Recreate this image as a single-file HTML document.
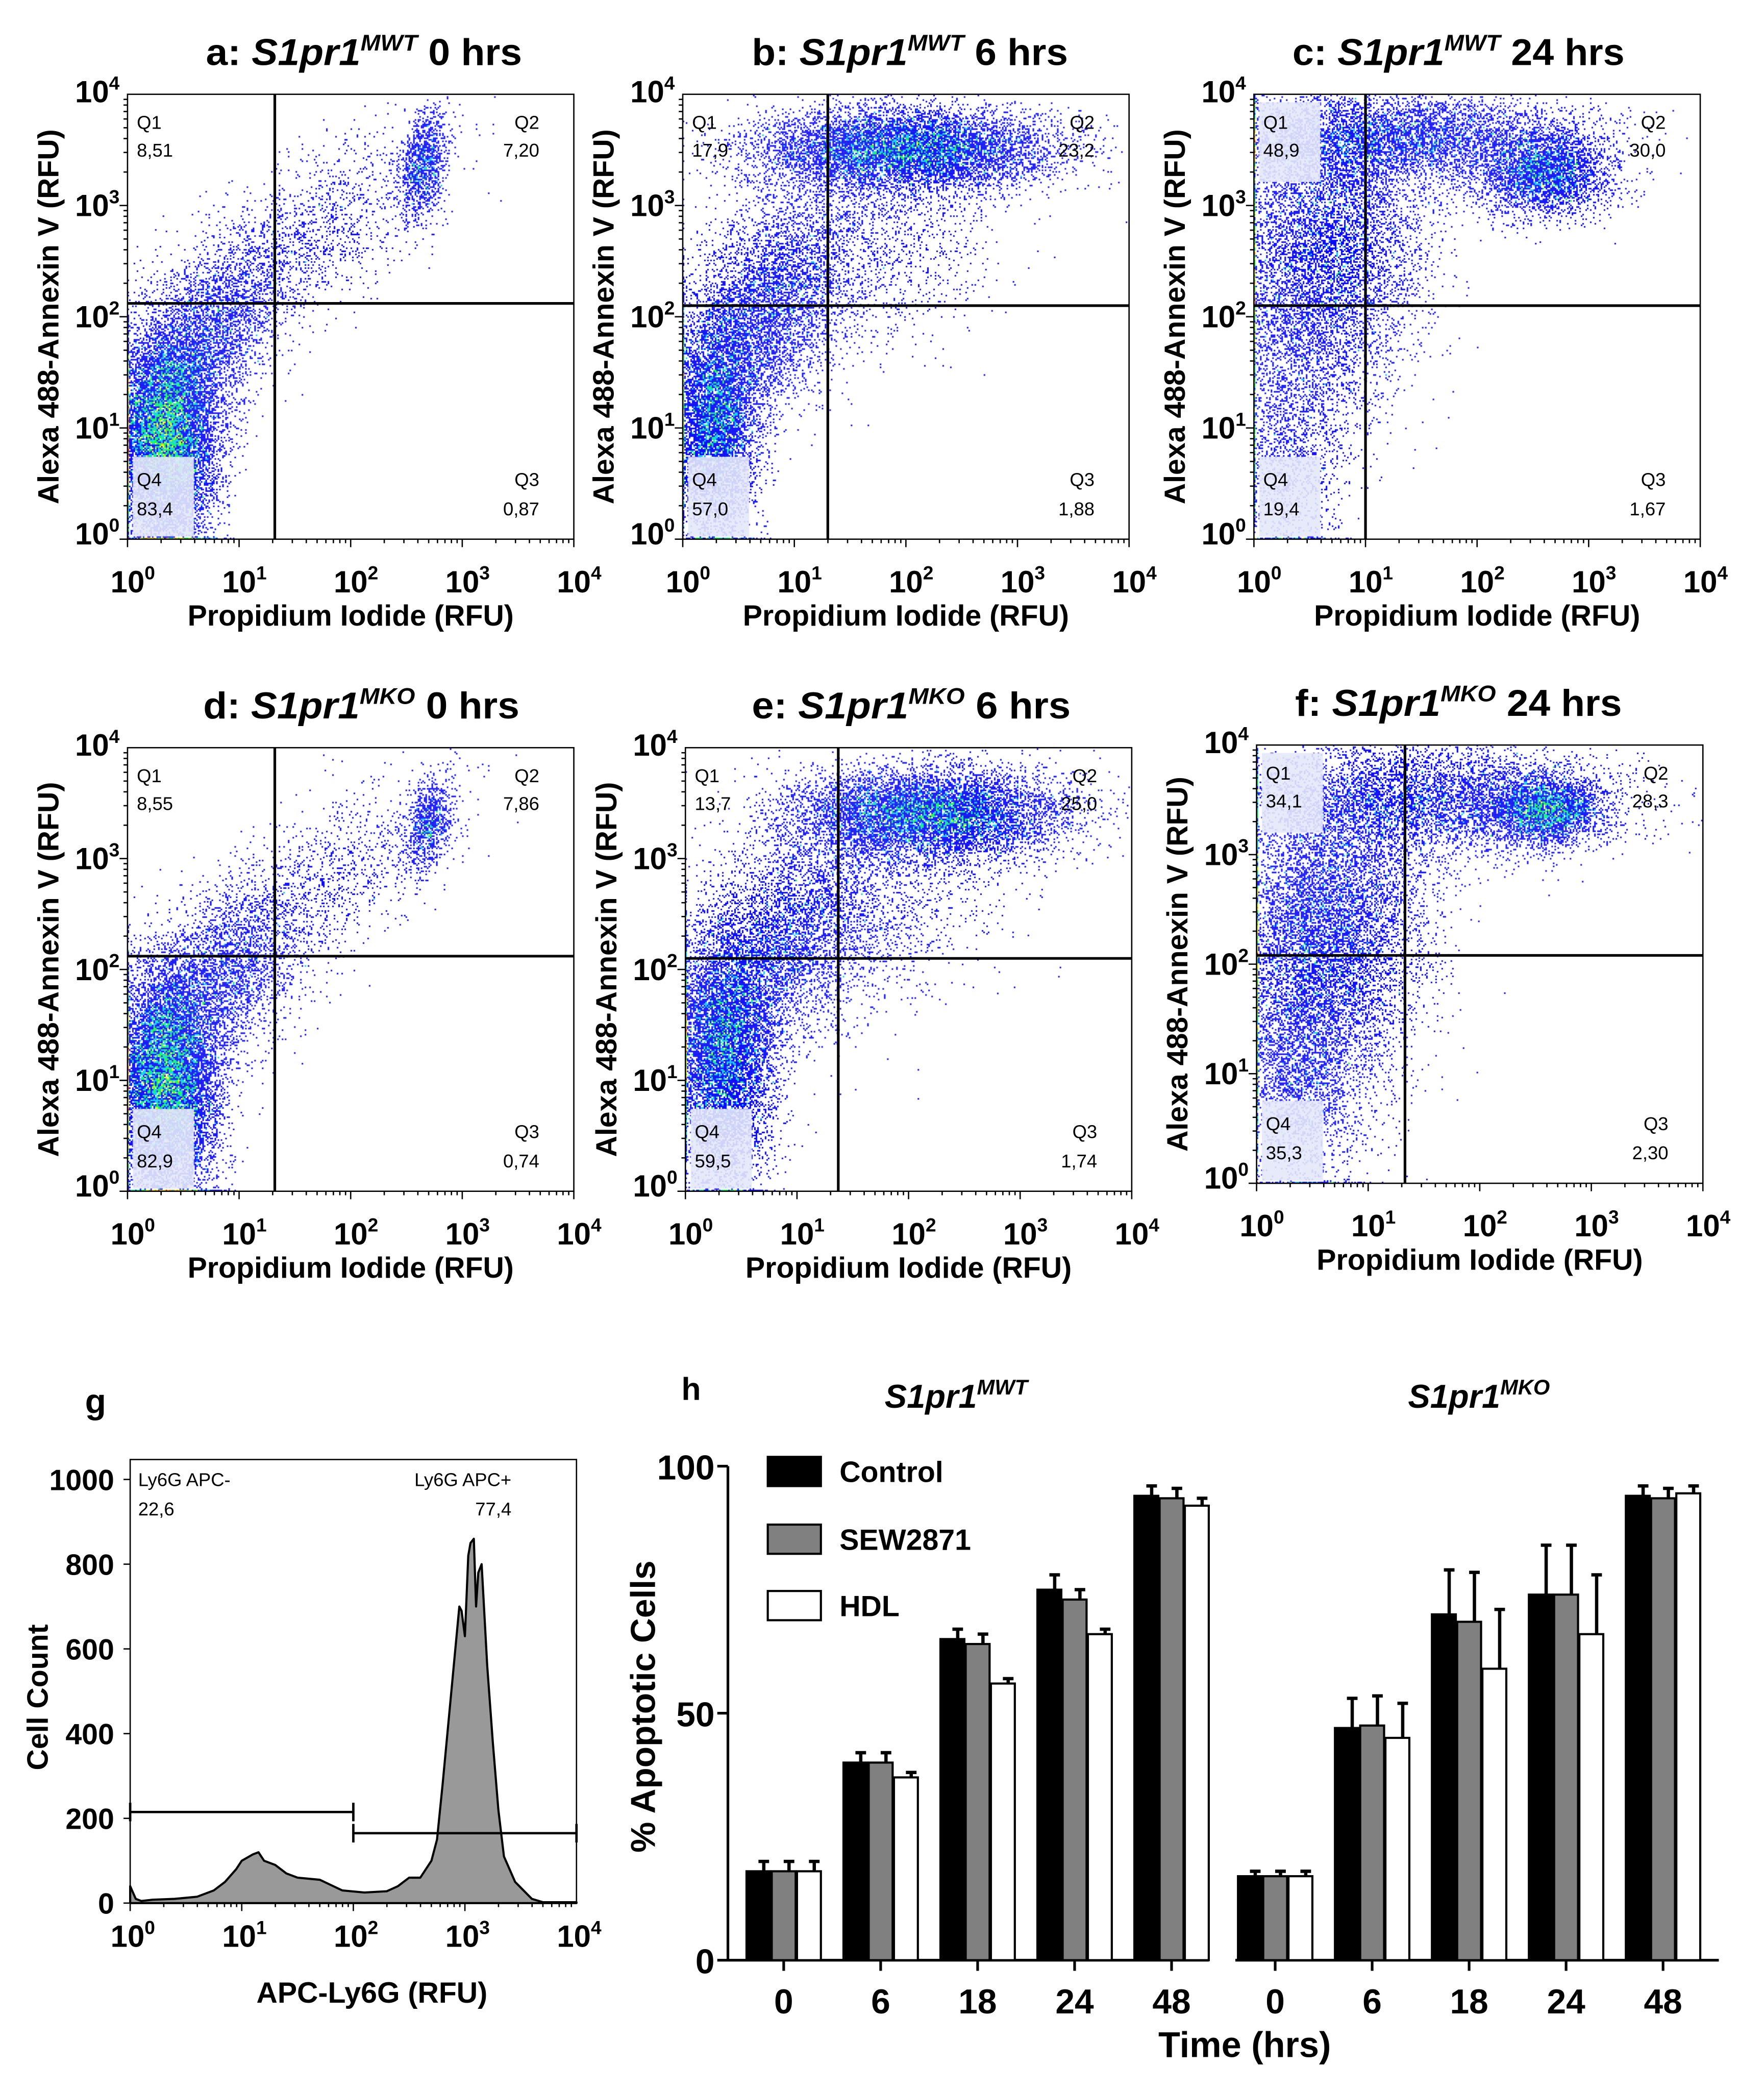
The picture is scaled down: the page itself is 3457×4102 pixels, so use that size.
<!DOCTYPE html>
<html><head><meta charset="utf-8">
<style>
html,body{margin:0;padding:0;background:#fff;}
#wrap{position:relative;width:3457px;height:4102px;overflow:hidden;}
canvas,svg{position:absolute;left:0;top:0;}
text{font-family:"Liberation Sans",Arial,sans-serif;}
</style></head>
<body>
<div id="wrap">
<canvas id="cv" width="3457" height="4102"></canvas>
<svg id="sv" width="3457" height="4102" viewBox="0 0 1328 1576" preserveAspectRatio="none"></svg>
</div>
<script>
// ---------- bar chart data (panel h) ----------
const timeCategories = ["0","6","18","24","48"];
const seriesNames = ["Control","SEW2871","HDL"];
const wtControl = [18,40,65,75,94];
const wtSEW = [18,40,64,73,93.5];
const wtHDL = [18,37,56,66,92];
const wtControlErr = [2,2,2,3,2];
const wtSEWErr = [2,2,2,2,2];
const wtHDLErr = [2,1,1,1,1.5];
const koControl = [17,47,70,74,94];
const koSEW = [17,47.5,68.5,74,93.5];
const koHDL = [17,45,59,66,94.5];
const koControlErr = [1,6,9,10,2];
const koSEWErr = [1,6,10,10,2];
const koHDLErr = [1,7,12,12,1.5];
const barTicks = [0,50,100];

// ---------- histogram data (panel g) ----------
const histLogX = [0,0.05,0.1,0.2,0.4,0.6,0.75,0.85,0.95,1.0,1.1,1.15,1.2,1.3,1.4,1.5,1.7,1.9,2.1,2.3,2.4,2.5,2.6,2.7,2.75,2.8,2.85,2.9,2.95,2.97,3.0,3.03,3.05,3.08,3.1,3.12,3.15,3.2,3.25,3.3,3.35,3.45,3.6,3.7,4.0];
const histCount = [40,10,5,8,10,15,30,50,80,100,115,120,100,90,70,60,55,30,25,28,40,60,60,100,150,280,420,560,700,690,630,820,850,860,700,780,800,560,380,220,110,50,10,2,2];
const histTicksY = [0,200,400,600,800,1000];
const gateNeg = [0,2,215];
const gatePos = [2,4,165];

// ---------- scatter panels: cluster specs [cx,cy,sx,sy,rho,n] in decades ----------
const clustersA = [[0.35,0.9,0.22,0.45,0,7000],[0.7,1.8,0.35,0.45,0.5,2000],[1.6,2.7,0.6,0.5,0.7,900],[2.65,3.35,0.1,0.25,0.3,700]];
const clustersB = [[0.3,1.0,0.18,0.5,0,3500],[0.7,2.0,0.4,0.55,0.5,3000],[2.0,3.5,0.65,0.18,0,5000],[1.6,2.6,0.6,0.5,0.3,1000]];
const clustersC = [[0.6,2.5,0.45,0.75,0.2,5000],[1.3,3.6,0.8,0.2,0,3000],[2.6,3.3,0.3,0.2,0,2000],[0.3,0.7,0.25,0.5,0,800]];
const clustersD = [[0.35,0.95,0.22,0.5,0,7000],[0.8,1.9,0.4,0.45,0.5,2000],[1.8,2.8,0.6,0.5,0.7,700],[2.7,3.3,0.1,0.2,0.3,500]];
const clustersE = [[0.35,1.2,0.22,0.55,0,4500],[0.8,2.2,0.45,0.55,0.5,3000],[2.2,3.4,0.6,0.2,0,5000],[1.7,2.6,0.6,0.5,0.3,900]];
const clustersF = [[0.6,2.2,0.45,0.8,0.2,6000],[1.6,3.5,0.8,0.25,0,3000],[2.6,3.4,0.25,0.15,0,1800],[0.4,0.8,0.25,0.5,0,800]];
const quadValues = [["8,51","7,20","0,87","83,4"],["17,9","23,2","1,88","57,0"],["48,9","30,0","1,67","19,4"],["8,55","7,86","0,74","82,9"],["13,7","25,0","1,74","59,5"],["34,1","28,3","2,30","35,3"]];
const gateX = [1.32,1.30,1.0,1.32,1.37,1.33];
const gateY = [2.12,2.1,2.1,2.12,2.1,2.08];

const NS="http://www.w3.org/2000/svg";
const sv=document.getElementById('sv');
function mk(tag,attrs,parent){const e=document.createElementNS(NS,tag);for(const k in attrs)e.setAttribute(k,attrs[k]);(parent||sv).appendChild(e);return e;}
function txt(x,y,s,size,opts,parent){opts=opts||{};const t=mk('text',{x:x,y:y,'font-size':size,'text-anchor':opts.anchor||'start','font-weight':opts.bold?'bold':'normal',fill:'#000'},parent);if(opts.rot)t.setAttribute('transform','rotate(-90 '+x+' '+y+')');if(opts.len){t.setAttribute('textLength',opts.len);t.setAttribute('lengthAdjust','spacingAndGlyphs');}t.textContent=s;return t;}
function pow10(x,y,exp,size,anchor,parent){const t=mk('text',{x:x,y:y,'font-size':size,'font-weight':'bold','text-anchor':anchor},parent);t.appendChild(document.createTextNode('10'));const s=mk('tspan',{'font-size':size*0.62,dy:-size*0.42},t);s.textContent=exp;return t;}

// seeded PRNG for cloud texture
let seed=12345;
function rnd(){seed=(seed*1664525+1013904223)>>>0;return seed/4294967296;}
function gauss(){let u=rnd()||1e-9,v=rnd();return Math.sqrt(-2*Math.log(u))*Math.cos(2*Math.PI*v);}

const cv=document.getElementById('cv');const ctx=cv.getContext('2d');
ctx.scale(3457/1328,4102/1576);

const panels=[
 {L:96,T:71,W:336,H:335,cl:clustersA,title:['a: ','MWT',' 0 hrs'],tx:155,tw:238},
 {L:514,T:71,W:336,H:335,cl:clustersB,title:['b: ','MWT',' 6 hrs'],tx:566,tw:238},
 {L:944,T:71,W:336,H:335,cl:clustersC,title:['c: ','MWT',' 24 hrs'],tx:973,tw:250},
 {L:96,T:563,W:336,H:334,cl:clustersD,title:['d: ','MKO',' 0 hrs'],tx:153,tw:238},
 {L:516,T:563,W:336,H:334,cl:clustersE,title:['e: ','MKO',' 6 hrs'],tx:566,tw:240},
 {L:946,T:561,W:336,H:330,cl:clustersF,title:['f: ','MKO',' 24 hrs'],tx:975,tw:246}
];
const colors=['#0000ff','#0000ff','#00c8ff','#00ff40','#ffff00','#ff9900','#ff0000'];
const DENS=1.7;
panels.forEach((p,pi)=>{
  const g=mk('g',{});
  
  
  const bin=1.15,nb=Math.ceil(p.W/bin),mb=Math.ceil(p.H/bin);
  const grid=new Uint16Array(nb*mb);
  p.cl.forEach(c=>{
    const n=Math.round(c[5]*DENS);
    for(let i=0;i<n;i++){
      const g1=gauss(),g2=gauss();
      let x=c[0]+c[2]*g1,y=c[1]+c[3]*(c[4]*g1+Math.sqrt(1-c[4]*c[4])*g2);
      if(x<0)x=0; if(y<0)y=0; if(x>3.99||y>3.99)continue;
      const bx=Math.floor(x/4*p.W/bin),by=Math.floor(y/4*p.H/bin);
      grid[by*nb+bx]++;
    }
  });
  for(let by=0;by<mb;by++)for(let bx=0;bx<nb;bx++){
    const n=grid[by*nb+bx];if(!n)continue;
    const ci=n<=2?0:n<=3?2:n<=5?3:n<=8?4:n<=12?5:6;
    ctx.fillStyle=colors[ci];
    ctx.fillRect(p.L+bx*bin,p.T+p.H-(by+1)*bin,bin,bin);
  }
  // label backgrounds
  ctx.fillStyle='rgba(228,232,248,0.9)';
  ctx.fillRect(p.L+4,p.T+p.H-62,46,60);
  if(pi==2||pi==5)ctx.fillRect(p.L+4,p.T+6,46,60);
  // frame
  mk('rect',{x:p.L,y:p.T,width:p.W,height:p.H,fill:'none',stroke:'#000','stroke-width':1},g);
  const gx=p.L+gateX[pi]/4*p.W, gy=p.T+p.H-gateY[pi]/4*p.H;
  const vl=mk('line',{x1:gx,y1:p.T,x2:gx,y2:p.T+p.H,stroke:'#000','stroke-width':2},g);
  
  const hl=mk('line',{x1:p.L,y1:gy,x2:p.L+p.W,y2:gy,stroke:'#000','stroke-width':2},g);
  
  // ticks
  for(let d=0;d<4;d++)for(let k=1;k<10;k++){
    const f=(d+Math.log10(k))/4;
    const len=k==1?6:3;
    mk('line',{x1:p.L+f*p.W,y1:p.T+p.H,x2:p.L+f*p.W,y2:p.T+p.H+len,stroke:'#000','stroke-width':1},g);
    mk('line',{x1:p.L,y1:p.T+p.H-f*p.H,x2:p.L-len,y2:p.T+p.H-f*p.H,stroke:'#000','stroke-width':1},g);
  }
  mk('line',{x1:p.L+p.W,y1:p.T+p.H,x2:p.L+p.W,y2:p.T+p.H+6,stroke:'#000'},g);
  for(let d=0;d<=4;d++){
    pow10(p.L+d/4*p.W+4,p.T+p.H+40,String(d),23,'middle',g);
    pow10(p.L-6,p.T+p.H-d/4*p.H+(d==0?4:d==4?6:8),String(d),23,'end',g);
  }
  txt(p.L+p.W/2,p.T+p.H+65,'Propidium Iodide (RFU)',22,{anchor:'middle',bold:true},g);
  const yt=txt(p.L-52,p.T+p.H/2,'Alexa 488-Annexin V (RFU)',22,{anchor:'middle',bold:true,rot:true},g);
  
  // title
  const t=mk('text',{x:p.tx,y:p.T-22,'font-size':28,'font-weight':'bold',textLength:p.tw,lengthAdjust:'spacingAndGlyphs'},g);
  
  t.appendChild(document.createTextNode(p.title[0]));
  const it=mk('tspan',{'font-style':'italic'},t);it.textContent='S1pr1';
  const sp=mk('tspan',{'font-style':'italic','font-size':17,dy:-11},t);sp.textContent=p.title[1];
  const rest=mk('tspan',{dy:11},t);rest.textContent=p.title[2];
  // quadrant labels
  const qv=quadValues[pi];
  txt(p.L+7,p.T+26,'Q1',14,{},g);txt(p.L+7,p.T+47,qv[0],14,{},g);
  txt(p.L+p.W-26,p.T+26,'Q2',14,{anchor:'end'},g);txt(p.L+p.W-26,p.T+47,qv[1],14,{anchor:'end'},g);
  txt(p.L+7,p.T+p.H-40,'Q4',14,{},g);txt(p.L+7,p.T+p.H-18,qv[3],14,{},g);
  txt(p.L+p.W-26,p.T+p.H-40,'Q3',14,{anchor:'end'},g);txt(p.L+p.W-26,p.T+p.H-18,qv[2],14,{anchor:'end'},g);
});

// ---------- histogram g ----------
(function(){
  const g=mk('g',{});
  
  
  const L=98,R=434,T=1099,B=1433;
  const xs=v=>L+v/4*(R-L), ys=v=>B-v*(B-1114)/1000;
  txt(64,1064,'g',26,{bold:true},g);
  mk('rect',{x:L,y:T,width:R-L,height:B-T,fill:'none',stroke:'#000','stroke-width':1},g);
  let d='M'+xs(histLogX[0])+','+ys(0);
  histLogX.forEach((v,i)=>{d+=' L'+xs(v).toFixed(2)+','+ys(histCount[i]).toFixed(2);});
  d+=' L'+xs(histLogX[histLogX.length-1])+','+ys(0)+' Z';
  const hp=mk('path',{d:d,fill:'#999','stroke':'#000','stroke-width':1.6,'stroke-linejoin':'round'},g);
  
  [gateNeg,gatePos].forEach((gt,i)=>{
    const y=ys(gt[2]);
    const l=mk('path',{d:'M'+xs(gt[0])+','+y+' H'+xs(gt[1])+' M'+xs(gt[0])+','+(y-7)+' V'+(y+7)+' M'+xs(gt[1])+','+(y-7)+' V'+(y+7),stroke:'#000','stroke-width':1.8,fill:'none'},g);
    
  });
  histTicksY.forEach(v=>{
    mk('line',{x1:L,y1:ys(v),x2:L-5,y2:ys(v),stroke:'#000'},g);
    txt(L-12,ys(v)+8,String(v),22,{anchor:'end',bold:true},g);
  });
  for(let d2=0;d2<4;d2++)for(let k=1;k<10;k++){const f=(d2+Math.log10(k));mk('line',{x1:xs(f),y1:B,x2:xs(f),y2:B+(k==1?6:3),stroke:'#000'},g);}
  for(let d2=0;d2<=4;d2++)pow10(xs(d2)+2,B+33,String(d2),23,'middle',g);
  txt(280,1508,'APC-Ly6G (RFU)',22,{anchor:'middle',bold:true},g);
  txt(36,1278,'Cell Count',22,{anchor:'middle',bold:true,rot:true},g);
  txt(104,1119,'Ly6G APC-',14,{},g);txt(104,1141,'22,6',14,{},g);
  txt(385,1119,'Ly6G APC+',14,{anchor:'end'},g);txt(385,1141,'77,4',14,{anchor:'end'},g);
})();

// ---------- bar chart h ----------
(function(){
  const g=mk('g',{});
  
  
  const y0=1476,y100=1104;
  const ys=v=>y0-v*(y0-y100)/100;
  const groups=[{x0:548,x1:910,c0:590,vals:[wtControl,wtSEW,wtHDL],errs:[wtControlErr,wtSEWErr,wtHDLErr],name:'wt'},
                {x0:930,x1:1294,c0:960,vals:[koControl,koSEW,koHDL],errs:[koControlErr,koSEWErr,koHDLErr],name:'ko'}];
  const fills=['#000','#808080','#fff'];
  const step=73,bw=18;
  txt(513,1054,'h',24,{bold:true},g);
  groups.forEach(gr=>{
    mk('line',{x1:gr.x0,y1:y0,x2:gr.x1,y2:y0,stroke:'#000','stroke-width':2},g);
    timeCategories.forEach((c,i)=>{
      const cx=gr.c0+i*step;
      mk('line',{x1:cx,y1:y0,x2:cx,y2:y0+8,stroke:'#000','stroke-width':2},g);
      txt(cx,y0+40,c,26,{anchor:'middle',bold:true},g);
      for(let s=0;s<3;s++){
        const v=gr.vals[s][i],e=gr.errs[s][i];
        const bx=cx+(s-1)*(bw+1)-bw/2;
        const ex=bx+bw/2+4;
        const el=mk('path',{d:'M'+ex+','+ys(v)+' V'+ys(v+e)+' M'+(ex-4)+','+ys(v+e)+' H'+(ex+4),stroke:'#000','stroke-width':2.5,fill:'none'},g);
        
        const r=mk('rect',{x:bx,y:ys(v),width:bw,height:y0-ys(v),fill:fills[s],stroke:'#000','stroke-width':1.6},g);
        
        
      }
    });
  });
  mk('line',{x1:548,y1:y0,x2:548,y2:y100,stroke:'#000','stroke-width':2},g);
  barTicks.forEach(v=>{
    mk('line',{x1:548,y1:ys(v),x2:540,y2:ys(v),stroke:'#000','stroke-width':2},g);
    txt(538,ys(v)+10,String(v),26,{anchor:'end',bold:true},g);
  });
  txt(493,1285,'% Apoptotic Cells',26,{anchor:'middle',bold:true,rot:true},g);
  txt(937,1549,'Time (hrs)',27,{anchor:'middle',bold:true},g);
  const lgY=[1097,1148,1198];
  seriesNames.forEach((n,s)=>{
    const lr=mk('rect',{x:578,y:lgY[s],width:40,height:22,fill:fills[s],stroke:'#000','stroke-width':1.6},g);
    
    txt(632,lgY[s]+19,n,22,{bold:true},g);
  });
  [[666,'MWT'],[1060,'MKO']].forEach(a=>{
    const t=mk('text',{x:a[0],y:1060,'font-size':25,'font-weight':'bold','font-style':'italic'},g);
    
    t.appendChild(document.createTextNode('S1pr1'));
    const s=mk('tspan',{'font-size':16,dy:-10},t);s.textContent=a[1];
  });
})();
</script>
</body></html>
